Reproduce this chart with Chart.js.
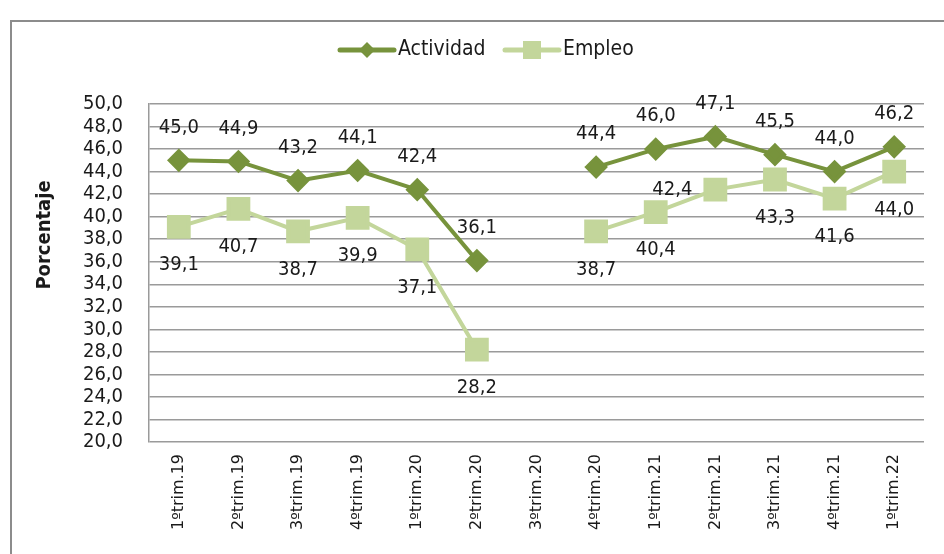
<!DOCTYPE html>
<html>
<head>
<meta charset="utf-8">
<script src="https://cdn.jsdelivr.net/npm/chart.js@4.4.1/dist/chart.umd.min.js"></script>
<style>
  html, body { margin: 0; padding: 0; background: #fff; }
  #wrap { width: 944px; height: 554px; position: relative; }
</style>
</head>
<body>
<div id="wrap"><canvas id="chart"></canvas></div>
<script>
const categories = ["1ºtrim.19", "2ºtrim.19", "3ºtrim.19", "4ºtrim.19", "1ºtrim.20", "2ºtrim.20",
  "3ºtrim.20", "4ºtrim.20", "1ºtrim.21", "2ºtrim.21", "3ºtrim.21", "4ºtrim.21", "1ºtrim.22"];
const actividad = [45.0, 44.9, 43.2, 44.1, 42.4, 36.1, null, 44.4, 46.0, 47.1, 45.5, 44.0, 46.2];
const empleo = [39.1, 40.7, 38.7, 39.9, 37.1, 28.2, null, 38.7, 40.4, 42.4, 43.3, 41.6, 44.0];
const yMin = 20, yMax = 50, yStep = 2;

const FONT = "'DejaVu Sans Condensed', 'Liberation Sans Narrow', 'Noto Sans', sans-serif";
const DARK = "#77933c";
const LIGHT = "#c3d69b";
const GRID = "#9a9a9a";

Chart.defaults.font.family = FONT;
Chart.defaults.color = "#1a1a1a";

const fmt = v => v.toFixed(1).replace(".", ",");

// label placement per series (Empleo's 2ºtrim.21 label sits to the left of its point)
const labelOffset = (dsIndex, i) => {
  if (dsIndex === 0) return [0, -33];
  if (i === 9) return [-43, 0];
  return [0, 38];
};

const framePlugin = {
  id: "frame",
  beforeDraw(chart) {
    const ctx = chart.ctx;
    ctx.save();
    ctx.strokeStyle = "#8c8c8c";
    ctx.lineWidth = 2;
    ctx.strokeRect(11, 21, 960, 600);
    ctx.restore();
  }
};

const extrasPlugin = {
  id: "extras",
  afterDatasetsDraw(chart) {
    const ctx = chart.ctx;
    ctx.save();
    ctx.font = "20px " + FONT;
    ctx.fillStyle = "#1a1a1a";
    ctx.textAlign = "center";
    ctx.textBaseline = "middle";
    chart.data.datasets.forEach((ds, d) => {
      chart.getDatasetMeta(d).data.forEach((pt, i) => {
        if (ds.data[i] == null) return;
        const [dx, dy] = labelOffset(d, i);
        ctx.fillText(fmt(ds.data[i]), pt.x + dx, pt.y + dy);
      });
    });

    // y axis title
    ctx.save();
    ctx.translate(45, 235);
    ctx.rotate(-Math.PI / 2);
    ctx.font = "bold 20px " + FONT;
    ctx.fillText("Porcentaje", 0, 0);
    ctx.restore();

    // legend: line + marker, then text
    const items = [
      { text: "Actividad", color: DARK, x: 340, style: "diamond" },
      { text: "Empleo", color: LIGHT, x: 505, style: "square" }
    ];
    const y = 50;
    items.forEach(it => {
      ctx.strokeStyle = it.color;
      ctx.fillStyle = it.color;
      ctx.lineWidth = 5;
      ctx.lineCap = "round";
      ctx.beginPath();
      ctx.moveTo(it.x, y);
      ctx.lineTo(it.x + 54, y);
      ctx.stroke();
      const cx = it.x + 27;
      ctx.beginPath();
      if (it.style === "diamond") {
        ctx.moveTo(cx, y - 8); ctx.lineTo(cx + 8, y); ctx.lineTo(cx, y + 8); ctx.lineTo(cx - 8, y);
      } else {
        ctx.rect(cx - 9, y - 9, 18, 18);
      }
      ctx.closePath();
      ctx.fill();
      ctx.fillStyle = "#1a1a1a";
      ctx.font = "21px " + FONT;
      ctx.textAlign = "left";
      ctx.fillText(it.text, it.x + 58, y);
    });
    ctx.restore();
  }
};

new Chart(document.getElementById("chart"), {
  type: "line",
  data: {
    labels: categories,
    datasets: [
      {
        label: "Actividad",
        data: actividad,
        borderColor: DARK,
        backgroundColor: DARK,
        borderWidth: 4,
        pointStyle: "rectRot",
        pointRadius: 9,
        pointHoverRadius: 9,
        spanGaps: false,
        tension: 0
      },
      {
        label: "Empleo",
        data: empleo,
        borderColor: LIGHT,
        backgroundColor: LIGHT,
        borderWidth: 4,
        pointStyle: "rect",
        pointRadius: 14,
        pointHoverRadius: 14,
        spanGaps: false,
        tension: 0
      }
    ]
  },
  options: {
    responsive: true,
    maintainAspectRatio: false,
    animation: false,
    events: [],
    layout: { padding: { left: 20, right: 20, top: 104, bottom: 0 } },
    plugins: {
      legend: { display: false },
      tooltip: { enabled: false }
    },
    scales: {
      x: {
        offset: true,
        grid: { display: false, drawTicks: false },
        border: { display: false },
        ticks: {
          minRotation: 90,
          maxRotation: 90,
          autoSkip: false,
          padding: 12,
          color: "#1a1a1a",
          font: { size: 16, family: "'DejaVu Sans', sans-serif" }
        },
        afterFit(scale) { scale.height = 112; }
      },
      y: {
        min: yMin,
        max: yMax,
        grid: { color: GRID, lineWidth: 1.5, drawTicks: false },
        border: { display: true, color: GRID, width: 1.5 },
        ticks: {
          stepSize: yStep,
          autoSkip: false,
          padding: 26,
          color: "#1a1a1a",
          font: { size: 20 },
          callback: v => fmt(v)
        },
        afterFit(scale) { scale.width = 129; }
      }
    }
  },
  plugins: [framePlugin, extrasPlugin]
});
</script>
</body>
</html>
